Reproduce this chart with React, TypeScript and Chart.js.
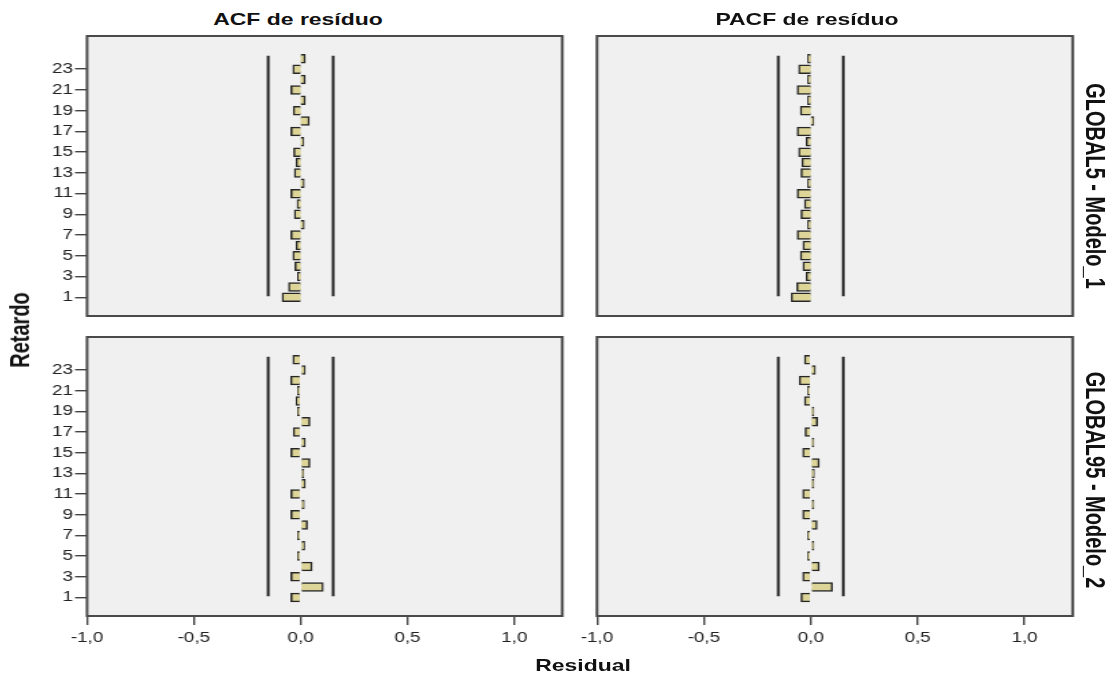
import React, { useEffect, useRef } from "react";
import { Chart, registerables } from "chart.js";

Chart.register(...registerables);

// ---------- data ----------
const lags = [1, 2, 3, 4, 5, 6, 7, 8, 9, 10, 11, 12, 13, 14, 15, 16, 17, 18, 19, 20, 21, 22, 23, 24];

const acfGlobal5 = [
  -0.085, -0.055, -0.01, -0.025, -0.035, -0.02, -0.044, 0.015, -0.028, -0.015, -0.044, 0.015,
  -0.028, -0.02, -0.031, 0.01, -0.044, 0.039, -0.033, 0.02, -0.044, 0.02, -0.035, 0.02,
];
const pacfGlobal5 = [
  -0.09, -0.064, -0.02, -0.035, -0.047, -0.035, -0.062, -0.005, -0.044, -0.028, -0.062, -0.005,
  -0.044, -0.04, -0.055, -0.02, -0.062, 0.01, -0.047, -0.005, -0.062, -0.005, -0.055, -0.005,
];
const acfGlobal95 = [
  -0.044, 0.104, -0.044, 0.052, -0.01, 0.017, -0.01, 0.03, -0.044, 0.015, -0.044, 0.02,
  0.005, 0.042, -0.044, 0.02, -0.033, 0.042, -0.005, -0.02, -0.01, -0.045, 0.02, -0.035,
];
const pacfGlobal95 = [
  -0.044, 0.1, -0.036, 0.038, -0.008, 0.004, -0.008, 0.028, -0.036, 0.005, -0.036, 0.01,
  0.015, 0.038, -0.036, 0.005, -0.025, 0.03, 0.01, -0.028, -0.01, -0.052, 0.02, -0.028,
];

const confLimits = [-0.152, 0.152];
const confLagSpan = [1.1, 24.3];

const xTickValues = [-1, -0.5, 0, 0.5, 1];
const yTickValues = [1, 3, 5, 7, 9, 11, 13, 15, 17, 19, 21, 23];
const xRange = [-1, 1.225];
const yRange = [-0.8, 26.2];

const columnTitles = ["ACF de resíduo", "PACF de resíduo"];
const rowTitles = ["GLOBAL5 - Modelo_1", "GLOBAL95 - Modelo_2"];
const xAxisTitle = "Residual";
const yAxisTitle = "Retardo";

// ---------- style ----------
const SX = 1.35; // horizontal stretch of the reference rendering
const FONT = "'Liberation Sans', Arial, sans-serif";
const BAR_FILL = "#ddd598";
const BAR_EDGE = "#262626";
const PANEL_BG = "#f0f0f0";
const PANEL_EDGE = "#4a4a4a";

const panelPlugin = {
  id: "panelFrame",
  beforeDraw(chart: any) {
    const { ctx, chartArea } = chart;
    const { left, top, right, bottom } = chartArea;
    ctx.save();
    ctx.fillStyle = PANEL_BG;
    ctx.fillRect(left, top, right - left, bottom - top);
    ctx.restore();
  },
  afterDraw(chart: any) {
    const { ctx, chartArea } = chart;
    const { left, top, right, bottom } = chartArea;
    ctx.save();
    ctx.strokeStyle = PANEL_EDGE;
    ctx.lineWidth = 2;
    ctx.strokeRect(left, top, right - left, bottom - top);
    ctx.restore();
  },
};

const fmt = (v: number) => v.toFixed(1).replace(".", ",");

const zeroPad = (s: any) => {
  s.paddingTop = 0;
  s.paddingBottom = 0;
  s.paddingLeft = 0;
  s.paddingRight = 0;
};

type PanelProps = {
  values: number[];
  pl: number;
  pr: number;
  pt: number;
  pb: number;
  showY: boolean;
  showX: boolean;
};

function Panel({ values, pl, pr, pt, pb, showY, showX }: PanelProps) {
  const ref = useRef<HTMLCanvasElement>(null);
  const canvasLeft = showY ? 0 : pl - 30;
  const canvasTop = pt - 6;
  const w = Math.round((pr + 8 - canvasLeft) / SX);
  const cssW = w * SX;
  const axisH = 42;
  const h = pb - canvasTop + (showX ? axisH + 4 : 4);
  const padLeft = showY ? 0 : (pl - canvasLeft) / SX;
  const padRight = w - (pr - canvasLeft) / SX;

  useEffect(() => {
    if (!ref.current) return;
    const tickFont = { family: FONT, size: 14 };
    const chart = new Chart(ref.current, {
      type: "bar",
      data: {
        datasets: [
          {
            type: "bar",
            data: lags.map((l, i) => ({ x: values[i], y: l })),
            backgroundColor: BAR_FILL,
            borderColor: BAR_EDGE,
            borderWidth: 1.5,
            inflateAmount: 0.6,
            minBarLength: 2,
            barPercentage: 0.8,
            categoryPercentage: 1,
            order: 2,
          } as any,
          ...confLimits.map(
            (c) =>
              ({
                type: "line",
                data: confLagSpan.map((y) => ({ x: c, y })),
                borderColor: "#1e1e1e",
                borderWidth: 2,
                pointRadius: 0,
                order: 1,
              } as any)
          ),
        ],
      },
      options: {
        indexAxis: "y",
        responsive: false,
        animation: false,
        events: [],
        layout: { autoPadding: false, padding: { left: padLeft, right: padRight, top: 6, bottom: 4 } },
        plugins: { legend: { display: false }, tooltip: { enabled: false }, title: { display: false } },
        scales: {
          x: {
            type: "linear",
            min: xRange[0],
            max: xRange[1],
            offset: false,
            display: showX,
            afterBuildTicks: (s: any) => {
              s.ticks = xTickValues.map((v) => ({ value: v }));
            },
            afterFit: (s: any) => {
              s.height = showX ? axisH : 0;
              zeroPad(s);
            },
            grid: { offset: false, drawOnChartArea: false, drawTicks: true, tickLength: 9, color: "#444", lineWidth: 1.4 },
            border: { display: false },
            ticks: {
              font: tickFont,
              color: "#222",
              padding: 5,
              maxRotation: 0,
              autoSkip: false,
              callback: (v: any) => fmt(Number(v)),
            },
          },
          y: {
            type: "linear",
            min: yRange[0],
            max: yRange[1],
            offset: false,
            display: showY,
            afterBuildTicks: (s: any) => {
              s.ticks = yTickValues.map((v) => ({ value: v }));
            },
            afterFit: (s: any) => {
              s.width = showY ? 87 / SX : 0;
              zeroPad(s);
            },
            grid: { offset: false, drawOnChartArea: false, drawTicks: true, tickLength: 12 / SX, color: "#444", lineWidth: 1.4 },
            border: { display: false },
            ticks: {
              font: tickFont,
              color: "#222",
              padding: 2 / SX,
              autoSkip: false,
              callback: (v: any) => String(v),
            },
          },
        },
      } as any,
      plugins: [panelPlugin],
    });
    return () => chart.destroy();
  }, []);

  return (
    <canvas
      ref={ref}
      width={w}
      height={h}
      style={{ position: "absolute", left: canvasLeft, top: canvasTop, width: cssW, height: h, display: "block" }}
    />
  );
}

function Label({
  text,
  cx,
  cy,
  size,
  rotate = 0,
}: {
  text: string;
  cx: number;
  cy: number;
  size: number;
  rotate?: number;
}) {
  return (
    <div
      style={{
        position: "absolute",
        left: cx,
        top: cy,
        transform: `translate(-50%, -50%) scaleX(${SX}) rotate(${rotate}deg)`,
        fontFamily: FONT,
        fontWeight: "bold",
        fontSize: size,
        whiteSpace: "nowrap",
        color: "#111",
        lineHeight: 1,
      }}
    >
      {text}
    </div>
  );
}

export default function App() {
  return (
    <div
      style={{
        position: "absolute",
        left: 0,
        top: 0,
        width: 1117,
        height: 684,
        background: "#fff",
        overflow: "hidden",
      }}
    >
      <Panel values={acfGlobal5} pl={87} pr={562} pt={36} pb={316} showY={true} showX={false} />
      <Panel values={pacfGlobal5} pl={597} pr={1073} pt={36} pb={316} showY={false} showX={false} />
      <Panel values={acfGlobal95} pl={87} pr={562} pt={337} pb={616} showY={true} showX={true} />
      <Panel values={pacfGlobal95} pl={597} pr={1073} pt={337} pb={616} showY={false} showX={true} />

      <Label text={columnTitles[0]} cx={298} cy={19} size={17} />
      <Label text={columnTitles[1]} cx={807} cy={19} size={17} />
      <Label text={xAxisTitle} cx={583} cy={665} size={17} />
      <Label text={yAxisTitle} cx={20} cy={330} size={20} rotate={-90} />
      <Label text={rowTitles[0]} cx={1095} cy={186} size={20} rotate={90} />
      <Label text={rowTitles[1]} cx={1095} cy={480} size={20} rotate={90} />
    </div>
  );
}
